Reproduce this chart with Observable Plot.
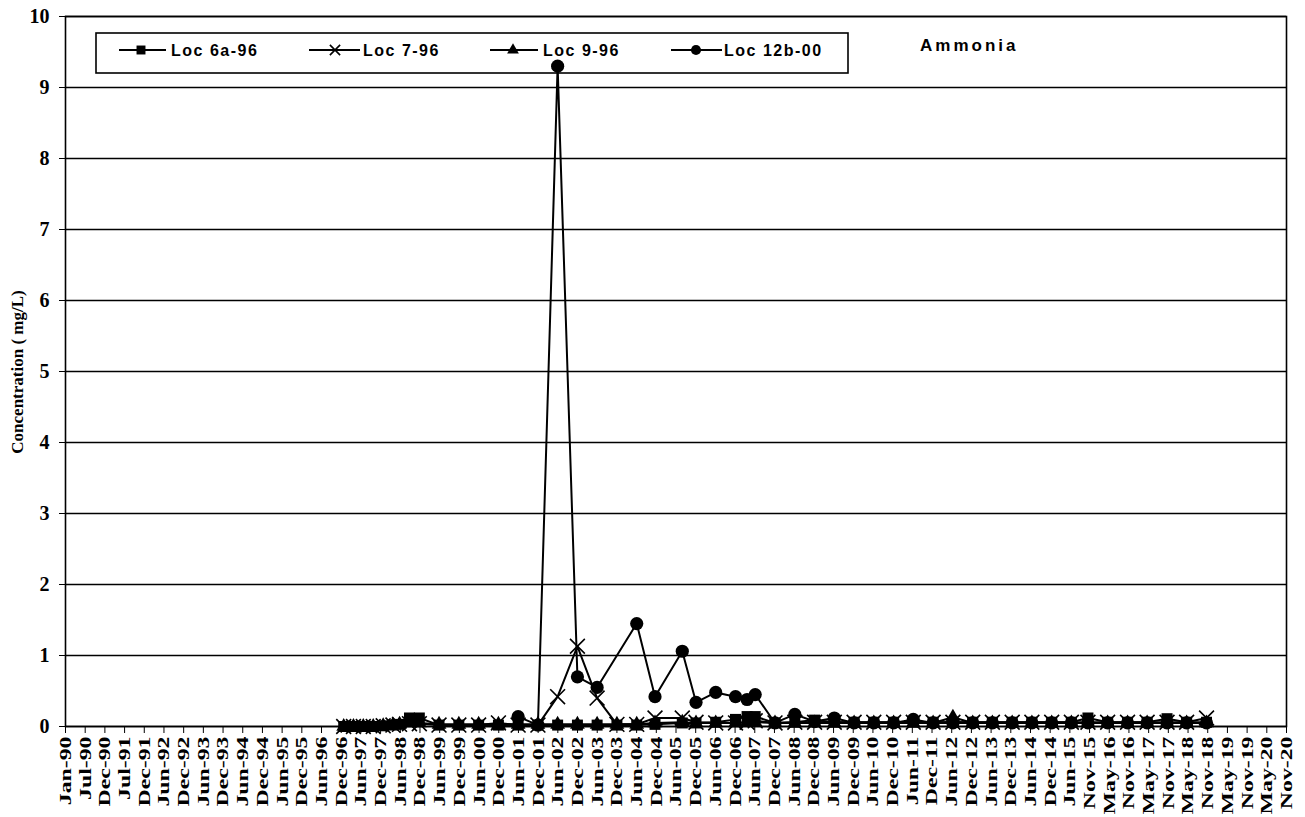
<!DOCTYPE html>
<html>
<head>
<meta charset="utf-8">
<script src="https://cdn.jsdelivr.net/npm/d3@7"></script>
<script src="https://cdn.jsdelivr.net/npm/@observablehq/plot@0.6"></script>
<style>
  html, body { margin: 0; padding: 0; background: #fff; }
  #chart { width: 1305px; height: 817px; }
</style>
</head>
<body>
<div id="chart"></div>
<script>
// ---------------- DATA ----------------
const seriesNames = ["Loc 6a-96", "Loc 7-96", "Loc 9-96", "Loc 12b-00"];
const chartTitle = "Ammonia";
const yLabel = "Concentration ( mg/L)";

const datesA = [
  "1997-01-15","1997-04-15","1997-07-15","1997-10-15","1998-01-15","1998-04-15","1998-06-15","1998-09-15","1998-12-15",
  "1999-06-15","1999-12-15","2000-06-15","2000-12-15","2001-06-15","2001-12-15","2002-06-15","2002-12-15","2003-06-15","2003-12-15","2004-06-15",
  "2004-12-01","2005-08-10","2005-12-15","2006-06-15","2006-12-15","2007-04-01","2007-06-15","2007-12-15",
  "2008-06-15","2008-12-15","2009-06-15","2009-12-15","2010-06-15","2010-12-15","2011-06-15","2011-12-15","2012-06-15","2012-12-15","2013-06-15","2013-12-15","2014-06-15","2014-12-15","2015-06-15",
  "2015-11-15","2016-05-15","2016-11-15","2017-05-15","2017-11-15","2018-05-15","2018-11-15"
];
const loc6a = [
  0.00,0.00,0.00,0.00,0.01,0.02,0.03,0.12,0.12,
  0.02,0.02,0.02,0.02,0.02,0.02,0.02,0.02,0.02,0.02,0.02,
  0.03,0.05,0.05,0.06,0.10,0.14,0.14,0.05,
  0.06,0.09,0.06,0.06,0.06,0.06,0.06,0.06,0.06,0.06,0.06,0.06,0.06,0.06,0.06,
  0.12,0.06,0.06,0.06,0.11,0.06,0.06
];
const loc7 = [
  0.00,0.00,0.00,0.00,0.01,0.02,0.03,0.04,0.04,
  0.02,0.02,0.02,0.05,0.02,0.02,0.42,1.13,0.40,0.03,0.03,
  0.12,0.12,0.06,0.05,0.05,0.06,0.08,0.05,
  0.06,0.06,0.06,0.06,0.06,0.06,0.06,0.06,0.06,0.06,0.06,0.06,0.06,0.06,0.06,
  0.06,0.06,0.06,0.06,0.06,0.06,0.12
];
const loc9 = [
  0.00,0.00,0.00,0.00,0.01,0.02,0.03,0.05,0.05,
  0.03,0.03,0.03,0.03,0.03,0.03,0.03,0.03,0.03,0.03,0.03,
  0.05,0.06,0.05,0.05,0.05,0.06,0.06,0.05,
  0.05,0.05,0.05,0.05,0.05,0.05,0.05,0.05,0.13,0.05,0.05,0.05,0.05,0.05,0.05,
  0.05,0.05,0.05,0.05,0.05,0.05,0.05
];
const datesB = [
  "2001-06-15","2001-12-15","2002-06-15","2002-12-15","2003-06-15",
  "2004-06-15","2004-12-01","2005-08-10","2005-12-15","2006-06-15","2006-12-15","2007-04-01","2007-06-15","2007-12-15",
  "2008-06-15","2008-12-15","2009-06-15","2009-12-15","2010-06-15","2010-12-15","2011-06-15","2011-12-15","2012-06-15","2012-12-15","2013-06-15","2013-12-15","2014-06-15","2014-12-15","2015-06-15",
  "2015-11-15","2016-05-15","2016-11-15","2017-05-15","2017-11-15","2018-05-15","2018-11-15"
];
const loc12b = [
  0.14,0.02,9.30,0.70,0.55,
  1.45,0.42,1.06,0.34,0.48,0.42,0.38,0.45,0.05,
  0.17,0.07,0.12,0.05,0.05,0.05,0.10,0.05,0.05,0.05,0.05,0.05,0.05,0.05,0.05,
  0.05,0.05,0.05,0.05,0.05,0.05,0.05
];
const tickLabels = [
  "Jan-90","Jul-90","Dec-90","Jul-91","Dec-91","Jun-92","Dec-92","Jun-93","Dec-93","Jun-94","Dec-94",
  "Jun-95","Dec-95","Jun-96","Dec-96","Jun-97","Dec-97","Jun-98","Dec-98","Jun-99","Dec-99","Jun-00",
  "Dec-00","Jun-01","Dec-01","Jun-02","Dec-02","Jun-03","Dec-03","Jun-04","Dec-04","Jun-05","Dec-05",
  "Jun-06","Dec-06","Jun-07","Dec-07","Jun-08","Dec-08","Jun-09","Dec-09","Jun-10","Dec-10","Jun-11",
  "Dec-11","Jun-12","Dec-12","Jun-13","Dec-13","Jun-14","Dec-14","Jun-15","Nov-15","May-16","Nov-16",
  "May-17","Nov-17","May-18","Nov-18","May-19","Nov-19","May-20","Nov-20"
];
const yTicks = [0,1,2,3,4,5,6,7,8,9,10];
const axisStart = "1990-01-01";
const tickStepDays = 182;   // Excel major unit

// ---------------- BUILD ----------------
const seriesDefs = [
  {name: seriesNames[0], dates: datesA, values: loc6a, symbol: "square",   r: 6.2},
  {name: seriesNames[1], dates: datesA, values: loc7,  symbol: "times",    r: 6.8},
  {name: seriesNames[2], dates: datesA, values: loc9,  symbol: "triangle", r: 5.5},
  {name: seriesNames[3], dates: datesB, values: loc12b, symbol: "circle",  r: 6.6}
];
const rows = seriesDefs.flatMap(s => s.dates.map((d, i) => ({series: s.name, date: new Date(d), value: s.values[i]})));

const start = new Date(axisStart);
const tickDates = tickLabels.map((_, i) => d3.utcDay.offset(start, tickStepDays * i));
const xDomain = [start, tickDates[tickDates.length - 1]];
const labelByTime = new Map(tickDates.map((d, i) => [+d, tickLabels[i]]));

const marks = [
  Plot.gridY(yTicks, {stroke: "black", strokeOpacity: 1, strokeWidth: 1.6}),
  Plot.frame({stroke: "black", strokeWidth: 1.6}),
  Plot.axisY(yTicks, {tickSize: 6, tickPadding: 10, fontSize: 20, label: null, tickFormat: d => String(d)}),
  Plot.axisX(tickDates, {tickSize: 7, tickPadding: 3, tickRotate: -90, fontSize: 17, label: null,
    tickFormat: d => labelByTime.get(+d)})
];
for (const s of seriesDefs) {
  const data = rows.filter(r => r.series === s.name);
  marks.push(Plot.line(data, {x: "date", y: "value", stroke: "black", strokeWidth: 2}));
}
for (const s of seriesDefs) {
  const data = rows.filter(r => r.series === s.name);
  if (s.symbol === "times") {
    marks.push(Plot.dot(data, {x: "date", y: "value", symbol: "times", r: s.r, stroke: "black", strokeWidth: 1.6, fill: "none"}));
  } else {
    marks.push(Plot.dot(data, {x: "date", y: "value", symbol: s.symbol, r: s.r, fill: "black", stroke: "none"}));
  }
}

const chart = Plot.plot({
  width: 1305,
  height: 817,
  marginLeft: 65,
  marginRight: 19,
  marginTop: 16,
  marginBottom: 91,
  style: {fontFamily: "'Liberation Serif', 'Times New Roman', serif", fontWeight: "bold", color: "black", background: "white"},
  x: {type: "utc", domain: xDomain},
  y: {domain: [0, 10]},
  marks
});
document.getElementById("chart").appendChild(chart);

// ---------------- DECORATIONS ----------------
const svg = d3.select(chart);
// stretch the x tick labels along their direction (Excel-like)
svg.selectAll('g[aria-label="x-axis tick label"] text').each(function() {
  const t = d3.select(this);
  const tr = t.attr("transform");
  if (tr) t.attr("transform", tr + " scale(1.4,1)");
});

// y-axis title
svg.append("text")
  .attr("transform", "translate(23,372) rotate(-90)")
  .attr("text-anchor", "middle")
  .style("font-family", "'Liberation Serif', 'Times New Roman', serif")
  .style("font-weight", "bold")
  .style("font-size", "17px")
  .attr("fill", "black")
  .text(yLabel);

// legend (inserted below the data marks)
const firstLine = chart.querySelector('g[aria-label="line"]');
const leg = svg.insert("g", () => firstLine).attr("aria-label", "legend").attr("text-anchor", "start");
leg.append("rect").attr("x", 96).attr("y", 33).attr("width", 752).attr("height", 40)
  .attr("fill", "white").attr("stroke", "black").attr("stroke-width", 1.6);
const legItems = [
  {x0: 119, x1: 166, m: 141, tx: 171, type: d3.symbolSquare, size: 80, stroke: false},
  {x0: 309, x1: 360, m: 335, tx: 363, type: d3.symbolTimes, size: 70, stroke: true},
  {x0: 490, x1: 538, m: 513, tx: 543, type: d3.symbolTriangle, size: 60, stroke: false},
  {x0: 671, x1: 722, m: 696, tx: 724, type: d3.symbolCircle, size: 80, stroke: false}
];
const legY = 50;
legItems.forEach((it, i) => {
  leg.append("line").attr("x1", it.x0).attr("x2", it.x1).attr("y1", legY).attr("y2", legY)
    .attr("stroke", "black").attr("stroke-width", 2);
  leg.append("path").attr("d", d3.symbol().type(it.type).size(it.size)())
    .attr("transform", `translate(${it.m},${legY})`)
    .attr("fill", it.stroke ? "none" : "black")
    .attr("stroke", it.stroke ? "black" : "none").attr("stroke-width", 1.6);
  leg.append("text").attr("x", it.tx).attr("y", legY + 6)
    .attr("text-anchor", "start")
    .style("font-family", "'Liberation Sans', Arial, sans-serif")
    .style("font-weight", "bold").style("font-size", "16px").style("letter-spacing", "1.5px")
    .attr("fill", "black").text(seriesNames[i]);
});
leg.append("text").attr("x", 920).attr("y", 51)
  .attr("text-anchor", "start")
  .style("font-family", "'Liberation Sans', Arial, sans-serif")
  .style("font-weight", "bold").style("font-size", "17px").style("letter-spacing", "3px")
  .attr("fill", "black").text(chartTitle);
</script>
</body>
</html>
